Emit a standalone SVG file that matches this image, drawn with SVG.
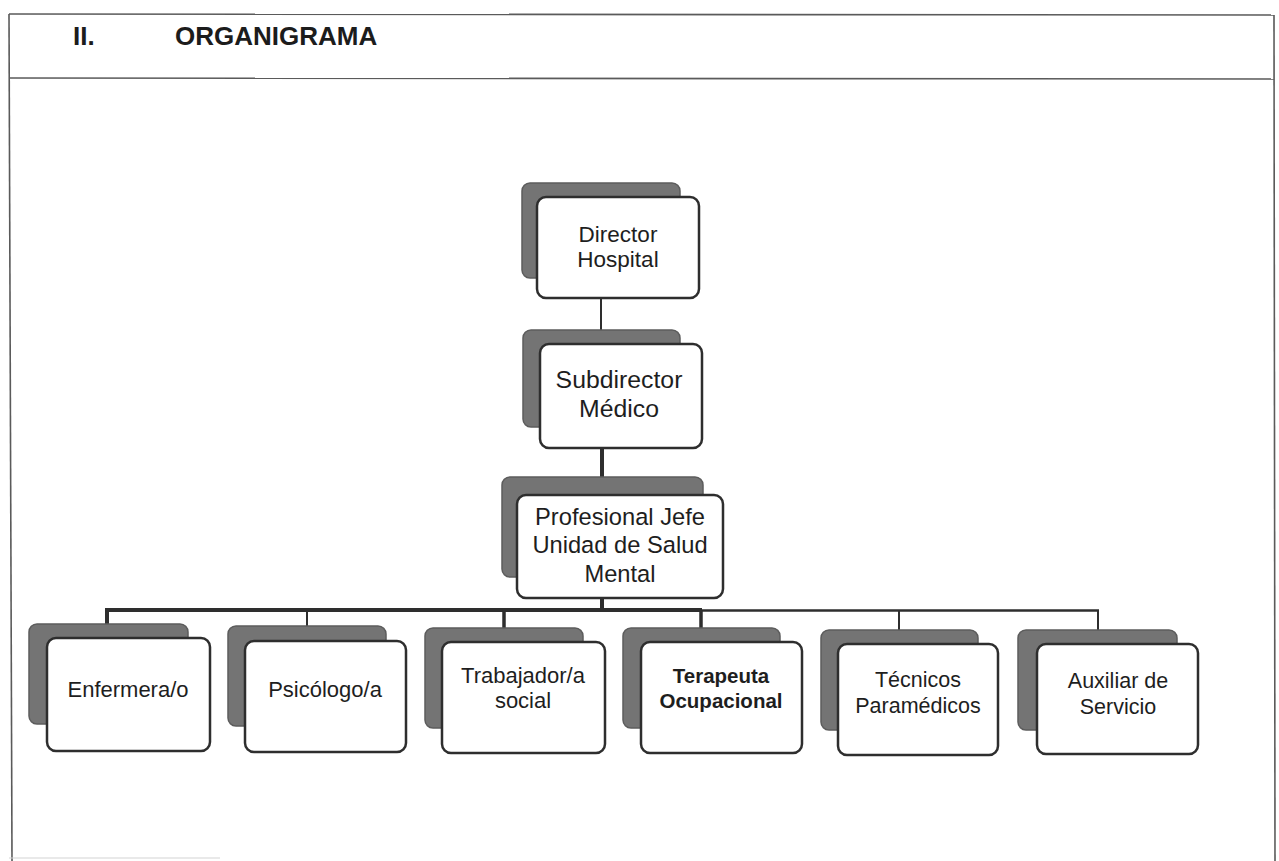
<svg xmlns="http://www.w3.org/2000/svg" width="1279" height="861" viewBox="0 0 1279 861">
<style>
  .frame { stroke: #5a5a5a; stroke-width: 1.6; fill: none; }
  .faint { stroke: #d4d4d4; stroke-width: 1.2; fill: none; }
  .back { fill: #747474; stroke: #5c5c5c; stroke-width: 1.5; }
  .front { fill: #ffffff; stroke: #2e2e2e; stroke-width: 2.5; }
  .lbl { font-family: "Liberation Sans", Arial, sans-serif; fill: #1e1e1e; text-anchor: middle; }
  .title { font-family: "Liberation Sans", Arial, sans-serif; font-weight: bold; fill: #1c1c1c; font-size: 26px; }
  .conn { stroke: #2e2e2e; fill: none; stroke-linecap: butt; }
</style>
<rect x="0" y="0" width="1279" height="861" fill="#ffffff"/>

<g id="frame">
  <line class="frame" x1="9" y1="14" x2="1274" y2="15"/>
  <line class="frame" x1="9" y1="78" x2="1274" y2="79"/>
  <line class="frame" x1="9" y1="14" x2="12" y2="861"/>
  <line class="frame" x1="1274" y1="15" x2="1275" y2="861"/>
  <line class="faint" x1="9" y1="858" x2="220" y2="858"/>
</g>

<g id="title">
  <text class="title" x="73" y="45">II.</text>
  <text class="title" x="175" y="45">ORGANIGRAMA</text>
</g>

<g id="connectors">
  <line class="conn" x1="601" y1="298" x2="601" y2="330" stroke-width="2"/>
  <line class="conn" x1="602" y1="448" x2="602" y2="477" stroke-width="4" stroke="#505050"/>
  <line class="conn" x1="602" y1="598" x2="602" y2="611" stroke-width="4" stroke="#505050"/>
  <line class="conn" x1="105" y1="610" x2="702" y2="610" stroke-width="4" stroke="#3a3a3a"/>
  <line class="conn" x1="700" y1="610.5" x2="1099" y2="610.5" stroke-width="2.5"/>
  <line class="conn" x1="107" y1="608" x2="107" y2="624" stroke-width="4" stroke="#505050"/>
  <line class="conn" x1="307" y1="610" x2="307" y2="626" stroke-width="2"/>
  <line class="conn" x1="504" y1="610" x2="504" y2="628" stroke-width="3.5" stroke="#505050"/>
  <line class="conn" x1="701" y1="610" x2="701" y2="628" stroke-width="3.5" stroke="#505050"/>
  <line class="conn" x1="899" y1="610" x2="899" y2="630" stroke-width="2"/>
  <line class="conn" x1="1098" y1="610" x2="1098" y2="630" stroke-width="2"/>
</g>

<g id="director">
  <rect class="back" x="522" y="183" width="158" height="95" rx="8"/>
  <rect class="front" x="537" y="197" width="162" height="101" rx="9"/>
  <text class="lbl" x="618" y="242" font-size="22.5">Director</text>
  <text class="lbl" x="618" y="267" font-size="22.5">Hospital</text>
</g>

<g id="subdirector">
  <rect class="back" x="523" y="330" width="157" height="97" rx="8"/>
  <rect class="front" x="540" y="344" width="162" height="104" rx="9"/>
  <text class="lbl" x="619" y="388" font-size="24.8">Subdirector</text>
  <text class="lbl" x="619" y="417" font-size="24.8">Médico</text>
</g>

<g id="profesional">
  <rect class="back" x="502" y="477" width="201" height="100" rx="8"/>
  <rect class="front" x="517" y="495" width="206" height="103" rx="9"/>
  <text class="lbl" x="620" y="525" font-size="23.7">Profesional Jefe</text>
  <text class="lbl" x="620" y="553" font-size="23.7">Unidad de Salud</text>
  <text class="lbl" x="620" y="582" font-size="23.7">Mental</text>
</g>

<g id="enfermera">
  <rect class="back" x="29" y="624" width="159" height="100" rx="8"/>
  <rect class="front" x="47" y="638" width="163" height="113" rx="9"/>
  <text class="lbl" x="128" y="697" font-size="22">Enfermera/o</text>
</g>

<g id="psicologo">
  <rect class="back" x="228" y="626" width="158" height="100" rx="8"/>
  <rect class="front" x="245" y="641" width="161" height="111" rx="9"/>
  <text class="lbl" x="325" y="697" font-size="22">Psicólogo/a</text>
</g>

<g id="trabajador">
  <rect class="back" x="425" y="628" width="158" height="100" rx="8"/>
  <rect class="front" x="442" y="642" width="163" height="111" rx="9"/>
  <text class="lbl" x="523" y="683" font-size="22">Trabajador/a</text>
  <text class="lbl" x="523" y="708" font-size="22">social</text>
</g>

<g id="terapeuta">
  <rect class="back" x="623" y="628" width="157" height="100" rx="8"/>
  <rect class="front" x="641" y="642" width="161" height="111" rx="9"/>
  <text class="lbl" x="721" y="683" font-size="20.5" font-weight="bold">Terapeuta</text>
  <text class="lbl" x="721" y="708" font-size="20.5" font-weight="bold">Ocupacional</text>
</g>

<g id="tecnicos">
  <rect class="back" x="821" y="630" width="157" height="100" rx="8"/>
  <rect class="front" x="838" y="644" width="160" height="111" rx="9"/>
  <text class="lbl" x="918" y="687" font-size="21.5">Técnicos</text>
  <text class="lbl" x="918" y="713" font-size="21.5">Paramédicos</text>
</g>

<g id="auxiliar">
  <rect class="back" x="1018" y="630" width="159" height="100" rx="8"/>
  <rect class="front" x="1037" y="644" width="161" height="110" rx="9"/>
  <text class="lbl" x="1118" y="688" font-size="21.5">Auxiliar de</text>
  <text class="lbl" x="1118" y="714" font-size="21.5">Servicio</text>
</g>
</svg>
